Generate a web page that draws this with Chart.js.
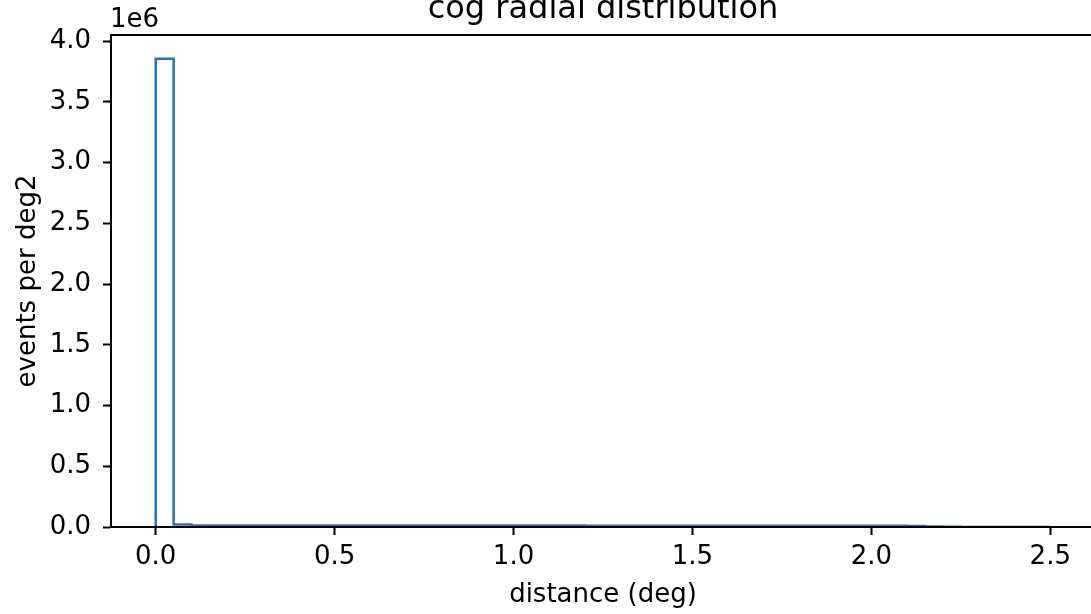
<!DOCTYPE html>
<html>
<head>
<meta charset="utf-8">
<script src="https://cdn.jsdelivr.net/npm/chart.js@4/dist/chart.umd.min.js"></script>
<style>
  html, body { margin: 0; padding: 0; background: #fff; overflow: hidden; }
  #wrap { width: 1100px; height: 614px; }
</style>
</head>
<body>
<div id="wrap"><canvas id="cogChart" width="1100" height="614"></canvas></div>
<script>
// histogram: 50 bins of 0.05 deg between 0 and 2.5
const binWidth = 0.05;
const eventsPerDeg2 = [
    3855000, 21000, 13000, 12800, 12600, 12500, 12400, 12300, 12200, 12100,
    12000, 12000, 11900, 11900, 11800, 11800, 11700, 11700, 11600, 11600,
    11500, 11500, 11400, 11400, 11300, 11300, 11200, 11200, 11100, 11100,
    11000, 11000, 10900, 10900, 10800, 10800, 10700, 10700, 10600, 10500,
    10300, 10000, 8500, 5000, 2000, 0, 0, 0, 0, 0
];
const xTicks = [0.0, 0.5, 1.0, 1.5, 2.0, 2.5];
const yTicks = [0, 500000, 1000000, 1500000, 2000000, 2500000, 3000000, 3500000, 4000000];

document.addEventListener("DOMContentLoaded", function() {

    // step outline points (left edge of each bin), closed at both ends
    const steps = [{x: 0, y: 0}];
    eventsPerDeg2.forEach(function(v, i) {
        steps.push({x: +(i * binWidth).toFixed(2), y: v});
    });
    steps.push({x: +(eventsPerDeg2.length * binWidth).toFixed(2), y: 0});

    const font = "'DejaVu Sans', sans-serif";

    const frameAndText = {
        id: "frameAndText",
        afterDraw: function(chart) {
            const ctx = chart.ctx;
            const a = chart.chartArea;
            ctx.save();
            ctx.strokeStyle = "#000";
            ctx.lineWidth = 2;
            ctx.strokeRect(a.left, a.top, a.right - a.left, a.bottom - a.top);
            ctx.fillStyle = "#000";
            ctx.textBaseline = "alphabetic";
            ctx.font = "26px " + font;
            ctx.textAlign = "left";
            ctx.fillText("1e6", 110, 27);
            ctx.font = "32px " + font;
            ctx.textAlign = "center";
            ctx.fillText("cog radial distribution", (a.left + a.right) / 2, 18);
            ctx.restore();
        }
    };

    const ctx = document.getElementById("cogChart").getContext("2d");
    new Chart(ctx, {
        type: "line",
        data: {
            datasets: [{
                data: steps,
                stepped: true,
                borderColor: "#1f77b4",
                borderWidth: 2.5,
                pointRadius: 0,
                fill: false
            }]
        },
        options: {
            responsive: false,
            animation: false,
            parsing: false,
            layout: { padding: { left: 0, top: 35, right: 5, bottom: 0 } },
            plugins: {
                legend: { display: false },
                tooltip: { enabled: false }
            },
            scales: {
                x: {
                    type: "linear",
                    min: -0.125,
                    max: 2.625,
                    afterFit: function(s) { s.height = 87; },
                    afterBuildTicks: function(s) { s.ticks = xTicks.map(function(v) { return {value: v}; }); },
                    grid: { drawOnChartArea: false, tickLength: 8, tickWidth: 2, tickColor: "#000" },
                    border: { color: "#000", width: 2 },
                    ticks: {
                        color: "#000",
                        padding: 7,
                        maxRotation: 0,
                        font: { family: font, size: 26 },
                        callback: function(v) { return v.toFixed(1); }
                    },
                    title: {
                        display: true,
                        text: "distance (deg)",
                        color: "#000",
                        font: { family: font, size: 26 },
                        padding: { top: 0, bottom: 3 }
                    }
                },
                y: {
                    min: 0,
                    max: 4050000,
                    afterFit: function(s) { s.width = 111; },
                    afterBuildTicks: function(s) { s.ticks = yTicks.map(function(v) { return {value: v}; }); },
                    grid: { drawOnChartArea: false, tickLength: 8, tickWidth: 2, tickColor: "#000" },
                    border: { color: "#000", width: 2 },
                    ticks: {
                        color: "#000",
                        padding: 12,
                        font: { family: font, size: 26 },
                        callback: function(v) { return (v / 1e6).toFixed(1); }
                    },
                    title: {
                        display: true,
                        text: "events per deg2",
                        color: "#000",
                        font: { family: font, size: 26 },
                        padding: { top: 13, bottom: 0 }
                    }
                }
            }
        },
        plugins: [frameAndText]
    });
});
</script>
</body>
</html>
